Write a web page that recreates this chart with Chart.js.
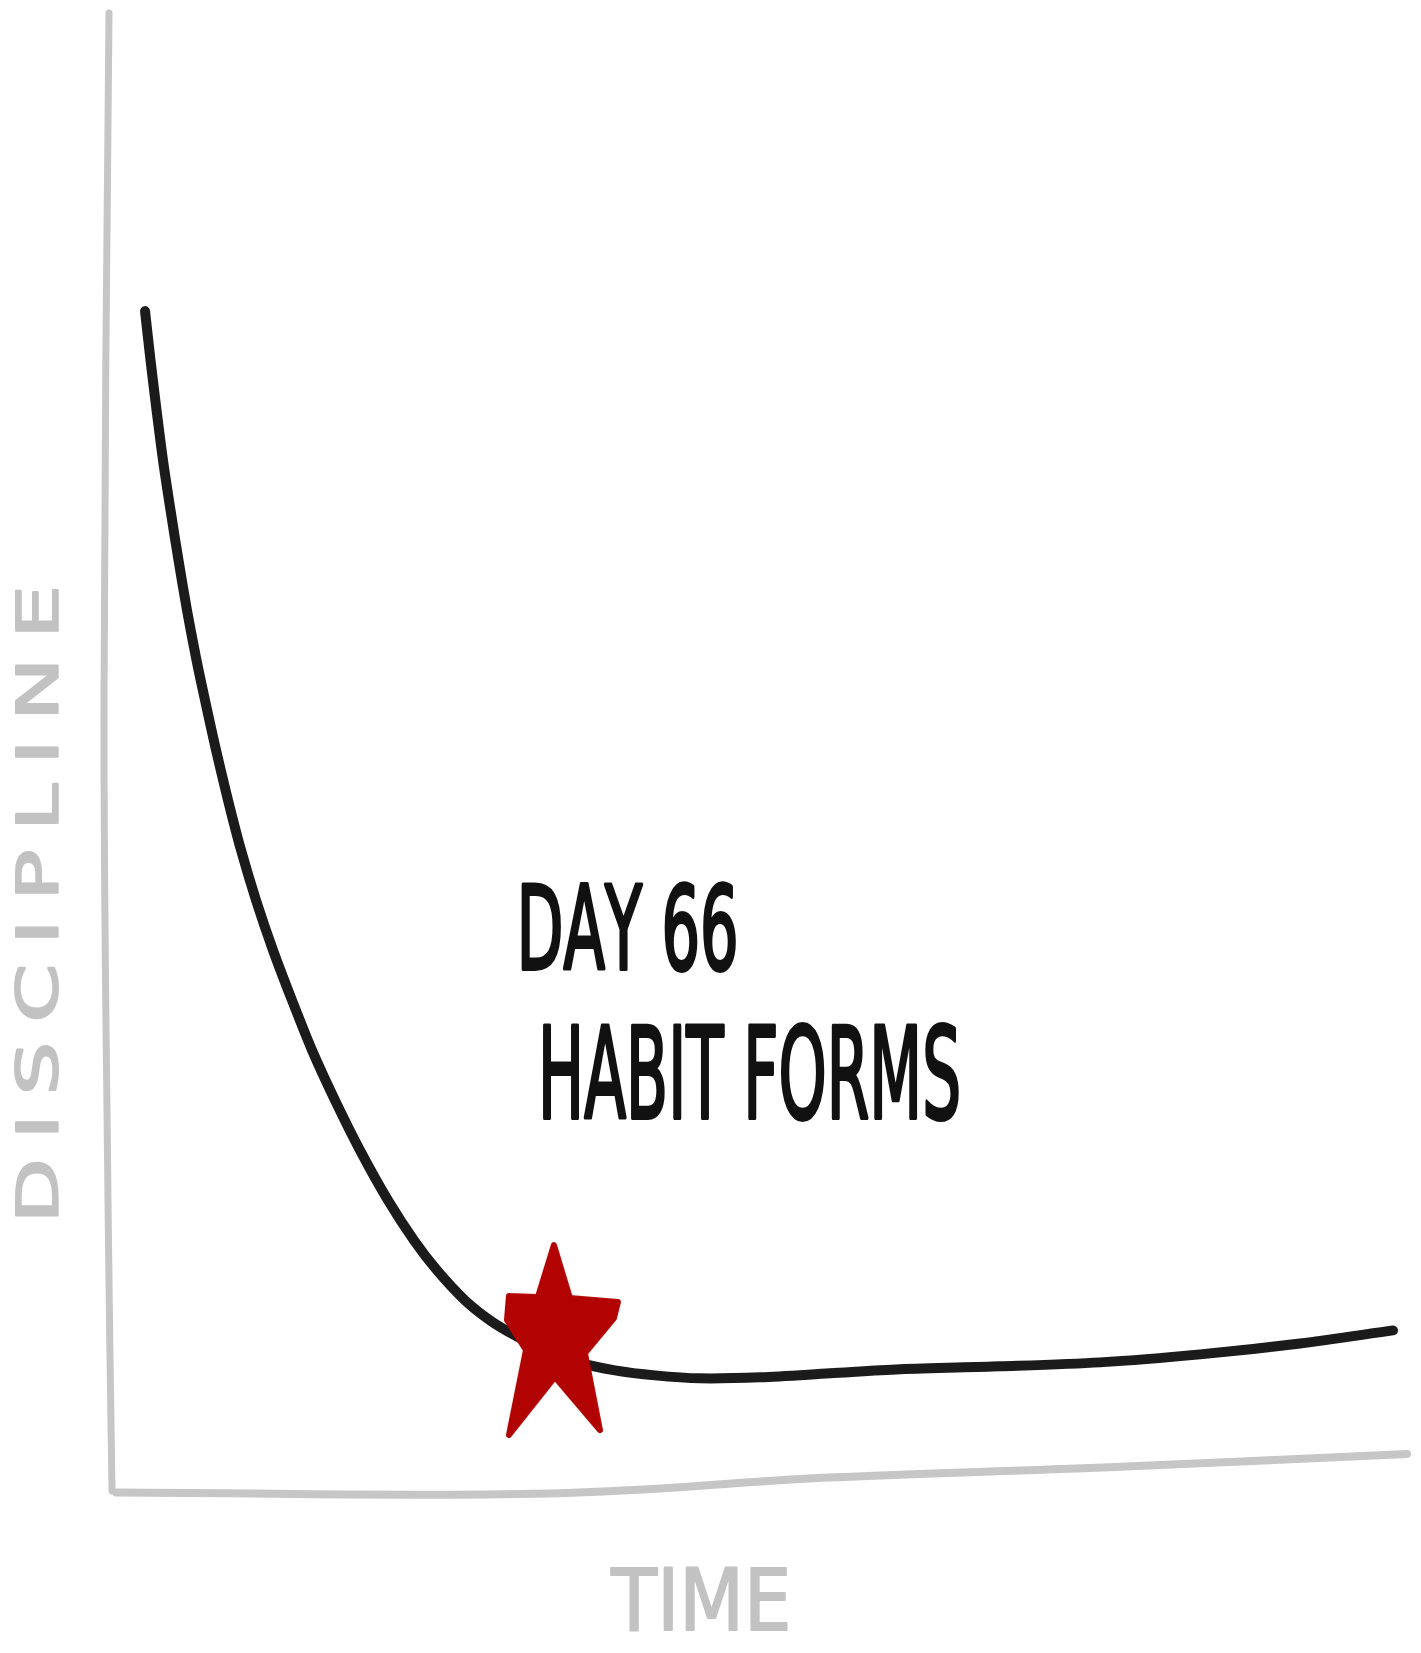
<!DOCTYPE html>
<html>
<head>
<meta charset="utf-8">
<title>Discipline vs time</title>
<script src="https://cdn.jsdelivr.net/npm/chart.js@4"></script>
<style>
  html, body { margin: 0; padding: 0; background: #fff; }
  #wrap { position: relative; width: 1421px; height: 1653px; }
</style>
</head>
<body>
<div id="wrap"><canvas id="chart-canvas"></canvas></div>
<script>
// days on x, discipline on y (both)
let curveDays = [5.70, 6.50, 7.38, 8.32, 9.42, 10.59, 11.83, 13.22, 14.46, 16.07, 17.82, 19.72, 21.91, 24.39, 27.16, 30.09, 33.45, 37.10, 41.19, 44.98, 48.34, 52.43, 56.08, 59.73, 64.12, 68.94, 74.34, 80.18, 86.75, 95.52, 105.74, 115.96, 130.57, 145.17, 159.78, 174.38, 187.96];
let curveDiscipline = [79.85, 76.54, 73.16, 69.78, 66.40, 63.01, 59.63, 56.25, 53.55, 50.17, 46.79, 43.41, 40.03, 36.65, 33.27, 29.89, 26.50, 23.12, 19.74, 17.04, 15.01, 12.98, 11.63, 10.61, 9.60, 8.79, 8.25, 7.91, 7.71, 7.78, 8.05, 8.32, 8.52, 8.79, 9.33, 10.07, 10.95];

// hand drawn axes
let xAxisDays = [1.5, 64.8, 105.6, 146.5, 190];
let xAxisLevel = [0, -0.07, 1.0, 1.7, 2.6];
let yAxisDays = [0.44, -0.29, 0.29, 0.88];
let yAxisLevel = [100, 53.5, 19.7, 0.1];

// the star
let habitDay = [66];
let habitLevel = [10.3];

let labelY = "DISCIPLINE";
let labelX = "TIME";
let noteLines = ["DAY 66", "HABIT FORMS"];

let chart;

function zip(xs, ys) {
  let out = [];
  for (let i = 0; i < xs.length; i++) {
    out.push({ x: xs[i], y: ys[i] });
  }
  return out;
}

function makeStar() {
  let c = document.createElement("canvas");
  c.width = 140;
  c.height = 210;
  let g = c.getContext("2d");
  g.translate(70, 105);
  let pts = [
    [-4, -95], [12, -42], [60, -38], [56, -22], [27, 13], [42, 90],
    [-3, 37], [-49, 95], [-32, 10], [-51, -20], [-49, -44], [-20, -43],
  ];
  g.beginPath();
  g.moveTo(pts[0][0], pts[0][1]);
  for (let i = 1; i < pts.length; i++) g.lineTo(pts[i][0], pts[i][1]);
  g.closePath();
  g.fillStyle = "#b20303";
  g.strokeStyle = "#b20303";
  g.lineWidth = 6;
  g.lineJoin = "round";
  g.fill();
  g.stroke();
  return c;
}

// draws text so it spans a given width (spacing if short, squeeze if long)
// stretch widens each glyph, pen thickens the strokes
function fitText(ctx, text, x, y, width, cap, opts) {
  let size = cap / 0.729;
  let stretch = opts.stretch || 1;
  ctx.save();
  ctx.translate(x, y);
  if (opts.angle) ctx.rotate(opts.angle);
  ctx.font = "normal " + size + "px 'DejaVu Sans', 'Liberation Sans', sans-serif";
  ctx.fillStyle = opts.color;
  ctx.strokeStyle = opts.color;
  ctx.lineJoin = "round";
  ctx.lineWidth = opts.pen || 0;
  ctx.textBaseline = "alphabetic";
  ctx.textAlign = "left";
  let natural = ctx.measureText(text).width * stretch;
  let chars = text.split("");
  let gap = 0;
  let sx = stretch;
  if (natural >= width) {
    sx = stretch * width / natural;
  } else {
    gap = (width - natural) / (chars.length - 1);
  }
  let pos = 0;
  for (let ch of chars) {
    ctx.save();
    ctx.translate(pos, 0);
    ctx.scale(sx, 1);
    ctx.fillText(ch, 0, 0);
    if (opts.pen) ctx.strokeText(ch, 0, 0);
    ctx.restore();
    pos += ctx.measureText(ch).width * sx + gap;
  }
  ctx.restore();
}

const sketchText = {
  id: "sketchText",
  afterDatasetsDraw(c) {
    let ctx = c.ctx;
    let xs = c.scales.x;
    let ys = c.scales.y;
    let ink = { color: "#111", pen: 4 };
    let grey = { color: "#c2c2c2", pen: 2 };
    // note next to the star
    fitText(ctx, noteLines[0], xs.getPixelForValue(60.0), ys.getPixelForValue(35.4), 216, 84, ink);
    fitText(ctx, noteLines[1], xs.getPixelForValue(63.1), ys.getPixelForValue(25.3), 423, 92, ink);
    // axis names in grey
    fitText(ctx, labelX, xs.getPixelForValue(73.8), ys.getPixelForValue(-9.3), 180, 62, grey);
    fitText(ctx, labelY, xs.getPixelForValue(-7.0), ys.getPixelForValue(18.2), 638, 41,
      { color: "#c2c2c2", pen: 2, stretch: 1.5, angle: -Math.PI / 2 });
  },
};

function createChart() {
  chart = new Chart(document.getElementById("chart-canvas"), {
    type: "line",
    data: {
      datasets: [
        {
          label: "Habit forms",
          data: zip(habitDay, habitLevel),
          showLine: false,
          pointStyle: makeStar(),
          pointRadius: 10,
          clip: false,
          order: 0,
        },
        {
          label: "Discipline",
          data: zip(curveDays, curveDiscipline),
          borderColor: "#1b1b1b",
          borderWidth: 10,
          borderCapStyle: "round",
          borderJoinStyle: "round",
          tension: 0.3,
          pointRadius: 0,
          clip: false,
          order: 1,
        },
        {
          label: "x axis",
          data: zip(xAxisDays, xAxisLevel),
          borderColor: "#c6c6c6",
          borderWidth: 8,
          borderCapStyle: "round",
          tension: 0.4,
          pointRadius: 0,
          clip: false,
          order: 2,
        },
        {
          label: "y axis",
          data: zip(yAxisDays, yAxisLevel),
          borderColor: "#c6c6c6",
          borderWidth: 7,
          borderCapStyle: "round",
          tension: 0.4,
          pointRadius: 0,
          clip: false,
          order: 2,
        },
      ],
    },
    options: {
      responsive: true,
      maintainAspectRatio: false,
      animation: false,
      events: [],
      layout: { padding: { left: 106, right: 14, top: 13, bottom: 131 } },
      plugins: {
        legend: { display: false },
        tooltip: { enabled: false },
      },
      scales: {
        x: { type: "linear", display: false, min: 0, max: 190 },
        y: { type: "linear", display: false, min: -2, max: 100 },
      },
    },
    plugins: [sketchText],
  });
}

createChart();
</script>
</body>
</html>
